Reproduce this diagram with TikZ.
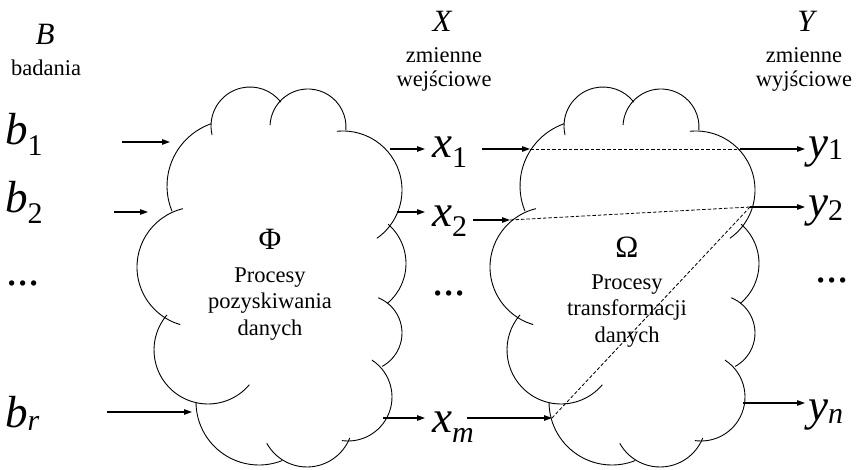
\documentclass[tikz,border=0pt]{standalone}
\usepackage{fontspec}
\setmainfont{Liberation Serif}
\usetikzlibrary{arrows.meta}

% big variable with a lowered index
\newcommand{\subvar}[3]{\textit{#1}\raisebox{-#3pt}{\fontsize{30}{30}\selectfont #2}}

\tikzset{
  puff/.style={line width=0.9pt},
  feed/.style={line width=1.2pt, -{Triangle[length=8pt,width=5.5pt]}},
  link/.style={line width=0.8pt, dash pattern=on 3.5pt off 2pt},
  varname/.style={inner sep=0pt, anchor=base, font=\fontsize{31}{31}\selectfont\itshape},
  desc/.style={inner sep=0pt, anchor=base, align=center, font=\fontsize{22.5}{24}\selectfont},
  bigvar/.style={inner sep=0pt, anchor=base west, font=\fontsize{45}{45}\selectfont},
  greek/.style={inner sep=0pt, anchor=base, font=\fontsize{31}{31}\selectfont},
  proc/.style={inner sep=0pt, anchor=base, align=center, font=\fontsize{22.5}{26.5}\selectfont},
  % cloud outline made of overlapping arcs (centre, radius, start and end angle)
  puffcloud/.pic={
    \draw[puff] (233,186) ++(250.5:66) arc[start angle=250.5, end angle=157.6, radius=66];
    \draw[puff] (250,126) ++(166.7:39) arc[start angle=166.7, end angle=322.3, radius=39];
    \draw[puff] (308,127) ++(183:38) arc[start angle=183, end angle=364.5, radius=38];
    \draw[puff] (343,190) ++(264:59) arc[start angle=264, end angle=415, radius=59];
    \draw[puff] (354,263.5) ++(-49:52) arc[start angle=-49, end angle=50, radius=52];
    \draw[puff] (364,333) ++(-68:38) arc[start angle=-68, end angle=61.5, radius=38];
    \draw[puff] (348,397) ++(-57:44) arc[start angle=-57, end angle=98, radius=44];
    \draw[puff] (307,421) ++(21.6:46) arc[start angle=21.6, end angle=151, radius=46];
    \draw[puff] (259,402) ++(180:63) arc[start angle=180, end angle=68.4, radius=63];
    \draw[puff] (208,350) ++(220.5:54) arc[start angle=220.5, end angle=40, radius=54];
    \draw[puff] (197,267) ++(256.4:60) arc[start angle=256.4, end angle=106.3, radius=60];
  }
}

\begin{document}
\begin{tikzpicture}[x=1pt,y=-1pt]
\useasboundingbox (0,0) rectangle (856,470);
\fill[white] (0,0) rectangle (856,470);

% the two processes
\pic (phi) at (0,0) {puffcloud};
\pic (omega) at (353,0) {puffcloud};

% column headings (a multi-line node sits on its last baseline)
\node[varname] (Bname) at (45,45) {B};
\node[desc] (Bdesc) at (46,76) {badania};
\node[varname] (Xname) at (442,32) {X};
\node[desc] (Xdesc) at (444,87) {zmienne\\wejściowe};
\node[varname] (Yname) at (806,32) {Y};
\node[desc] (Ydesc) at (804,87) {zmienne\\wyjściowe};

% process labels
\node[greek] (phisym) at (270,250) {Φ};
\node[proc] (phitext) at (270,335) {Procesy\\pozyskiwania\\danych};
\node[greek] (omegasym) at (627,258) {Ω};
\node[proc] (omegatext) at (627,342) {Procesy\\transformacji\\danych};

% variables
\node[bigvar] (b1) at (5,145) {\subvar{b}{1}{11}};
\node[bigvar] (b2) at (5,213) {\subvar{b}{2}{11}};
\node[bigvar] (bdots) at (6,285) {...};
\node[bigvar] (br) at (5,427) {\subvar{b}{\textit{r}}{3}};
\node[bigvar] (x1) at (432,158) {\subvar{x}{1}{10}};
\node[bigvar] (x2) at (432,227) {\subvar{x}{2}{10}};
\node[bigvar] (xdots) at (432,295) {...};
\node[bigvar] (xm) at (432,432) {\subvar{x}{\textit{m}}{10}};
\node[bigvar] (y1) at (808,158) {\subvar{y}{1}{2}};
\node[bigvar] (y2) at (808,217) {\subvar{y}{2}{4}};
\node[bigvar] (ydots) at (815,282) {...};
\node[bigvar] (yn) at (808,420) {\subvar{y}{\textit{n}}{3}};

% arrow end points
\coordinate (b1s) at (122,142);  \coordinate (b1e) at (170,142);
\coordinate (b2s) at (114,212);  \coordinate (b2e) at (148,212);
\coordinate (brs) at (107,412);  \coordinate (bre) at (192,412);
\coordinate (x1s) at (390,149);  \coordinate (x1e) at (425,149);
\coordinate (x2s) at (397,212);  \coordinate (x2e) at (425,212);
\coordinate (xms) at (383,418);  \coordinate (xme) at (425,418);
\coordinate (x1o) at (482,149);  \coordinate (x1i) at (530,149);
\coordinate (x2o) at (473,220);  \coordinate (x2i) at (510,220);
\coordinate (xmo) at (467,418);  \coordinate (xmi) at (552,418);
\coordinate (y1s) at (740,149);  \coordinate (y1e) at (805,149);
\coordinate (y2s) at (750,207);  \coordinate (y2e) at (805,207);
\coordinate (yns) at (743,403);  \coordinate (yne) at (805,403);

% inputs and outputs
\draw[feed] (b1s) -- (b1e);
\draw[feed] (b2s) -- (b2e);
\draw[feed] (brs) -- (bre);
\draw[feed] (x1s) -- (x1e);
\draw[feed] (x2s) -- (x2e);
\draw[feed] (xms) -- (xme);
\draw[feed] (x1o) -- (x1i);
\draw[feed] (x2o) -- (x2i);
\draw[feed] (xmo) -- (xmi);
\draw[feed] (y1s) -- (y1e);
\draw[feed] (y2s) -- (y2e);
\draw[feed] (yns) -- (yne);

% dependencies inside the transformation
\draw[link] (x1i) -- (y1s);
\draw[link] (x2i) -- (y2s);
\draw[link] (xmi) -- (y2s);
\end{tikzpicture}
\end{document}
